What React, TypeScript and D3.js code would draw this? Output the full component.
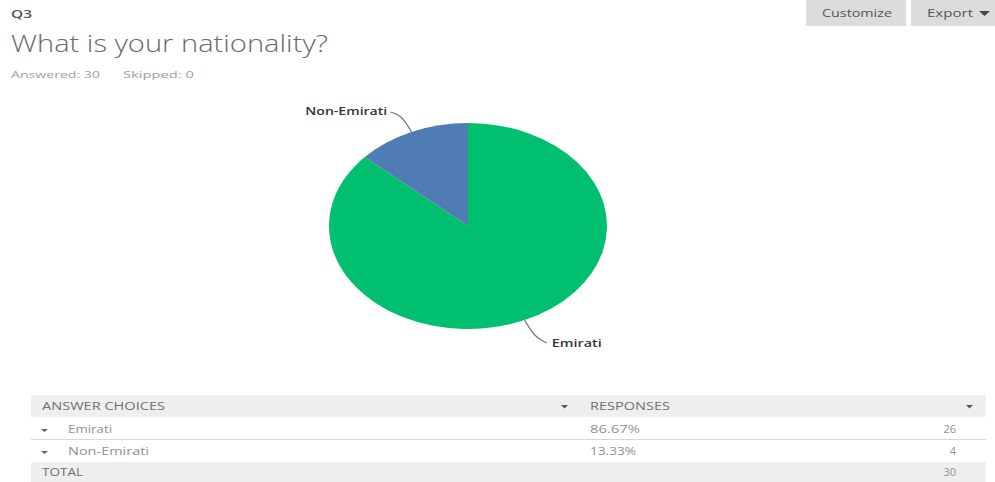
import React from "react";
import * as d3 from "d3";

const choices = ["Emirati", "Non-Emirati"];
const counts = [26, 4];
const percents = ["86.67%", "13.33%"];
const colors = ["#00BF6F", "#507CB6"];
const questionId = "Q3";
const questionTitle = "What is your nationality?";
const answered = 30;
const skipped = 0;

const W = 995;
const H = 482;

type TProps = {
  x: number; y: number; size: number; len?: number; fill?: string; weight?: number;
  anchor?: "start" | "end" | "middle"; children: React.ReactNode;
};
function T({ x, y, size, len, fill = "#888", weight = 400, anchor = "start", children }: TProps) {
  return (
    <text x={x} y={y} fontSize={size} fill={fill} fontWeight={weight} textAnchor={anchor}
      textLength={len} lengthAdjust={len ? "spacingAndGlyphs" : undefined}>
      {children}
    </text>
  );
}

export default function App() {
  const cx = 468;
  const cy = 226;
  const r = 103;
  const sx = 139 / 103;
  const pie = d3.pie<number>().sort(null).value((d) => d);
  const arcs = pie(counts);
  const arc = d3.arc<d3.PieArcDatum<number>>().innerRadius(0).outerRadius(r);
  const total = d3.sum(counts);
  const font = "'Open Sans', Roboto, sans-serif";
  const labelLens = [50, 82];

  const pt = (a: number, k: number): [number, number] => [cx + Math.sin(a) * r * k * sx, cy - Math.cos(a) * r * k];

  const labels = arcs.map((a, i) => {
    const mid = (a.startAngle + a.endAngle) / 2;
    const right = Math.sin(mid) > 0;
    const p0 = pt(mid, 1.0);
    const p1 = pt(mid, 1.18);
    const p2: [number, number] = [p1[0] + (right ? 12 : -11), p1[1] + (right ? 6 : -3)];
    const line = d3.line().curve(d3.curveBasis)([p0, p1, p2]);
    return { line, tx: p2[0] + (right ? 5 : -3), ty: p2[1] + (right ? 4 : 3), anchor: right ? "start" : "end", text: choices[i], len: labelLens[i] };
  });

  const tableX0 = 31;
  const tableX1 = 986;
  const rowY = [395, 418, 440, 462];
  const rowH = 22;
  const choiceLens = [44, 81];
  const pctLens = [50, 46];

  return (
    <svg width={W} height={H} style={{ position: "absolute", left: 0, top: 0, background: "#fff" }} fontFamily={font}>
      <T x={11} y={18} size={10} weight={600} fill="#555" len={21}>{questionId}</T>
      <T x={11} y={52} size={23} weight={300} fill="#6a6a6a" len={317}>{questionTitle}</T>
      <T x={11} y={78} size={9} fill="#a0a0a0" len={89}>{`Answered: ${answered}`}</T>
      <T x={123} y={78} size={9} fill="#a0a0a0" len={71}>{`Skipped: ${skipped}`}</T>

      <rect x={806} y={0} width={100} height={26} fill="#dcdcdc" />
      <T x={822} y={17} size={10} fill="#555" len={70}>Customize</T>
      <rect x={911} y={0} width={84} height={26} fill="#dcdcdc" />
      <T x={927} y={17} size={10} fill="#555" len={46}>Export</T>
      <path d="M979,11 L990,11 L984.5,16 Z" fill="#444" />

      <g transform={`translate(${cx},${cy}) scale(${sx},1)`}>
        {arcs.map((a, i) => (
          <path key={i} d={arc(a) || ""} fill={colors[i]} stroke="none" />
        ))}
      </g>
      {labels.map((l, i) => (
        <g key={i}>
          <path d={l.line || ""} fill="none" stroke="#777" strokeWidth={1.2} />
          <T x={l.tx} y={l.ty} size={10} weight={600} fill="#333" anchor={l.anchor as any} len={l.len}>{l.text}</T>
        </g>
      ))}

      <rect x={tableX0} y={rowY[0]} width={tableX1 - tableX0} height={rowH} fill="#efefef" />
      <rect x={tableX0} y={rowY[3]} width={tableX1 - tableX0} height={rowH - 2} fill="#efefef" />
      <line x1={tableX0} x2={tableX1} y1={439.5} y2={439.5} stroke="#d8d8d8" strokeWidth={1} />
      <T x={42} y={410} size={10} fill="#707070" len={123}>ANSWER CHOICES</T>
      <path d="M561,405 L568,405 L564.5,408.5 Z" fill="#555" />
      <T x={590} y={410} size={10} fill="#707070" len={80}>RESPONSES</T>
      <path d="M966,405 L973,405 L969.5,408.5 Z" fill="#555" />
      {choices.map((c, i) => (
        <g key={c}>
          <path d={`M41,${rowY[i + 1] + 11} L48,${rowY[i + 1] + 11} L44.5,${rowY[i + 1] + 14} Z`} fill="#666" />
          <T x={68} y={rowY[i + 1] + 15} size={10} fill="#909090" len={choiceLens[i]}>{c}</T>
          <T x={590} y={rowY[i + 1] + 15} size={10} fill="#909090" len={pctLens[i]}>{percents[i]}</T>
          <T x={956} y={rowY[i + 1] + 15} size={11} fill="#909090" anchor="end">{counts[i]}</T>
        </g>
      ))}
      <T x={42} y={476} size={10} fill="#707070" len={41}>TOTAL</T>
      <T x={956} y={476} size={11} fill="#909090" anchor="end">{total}</T>
    </svg>
  );
}
